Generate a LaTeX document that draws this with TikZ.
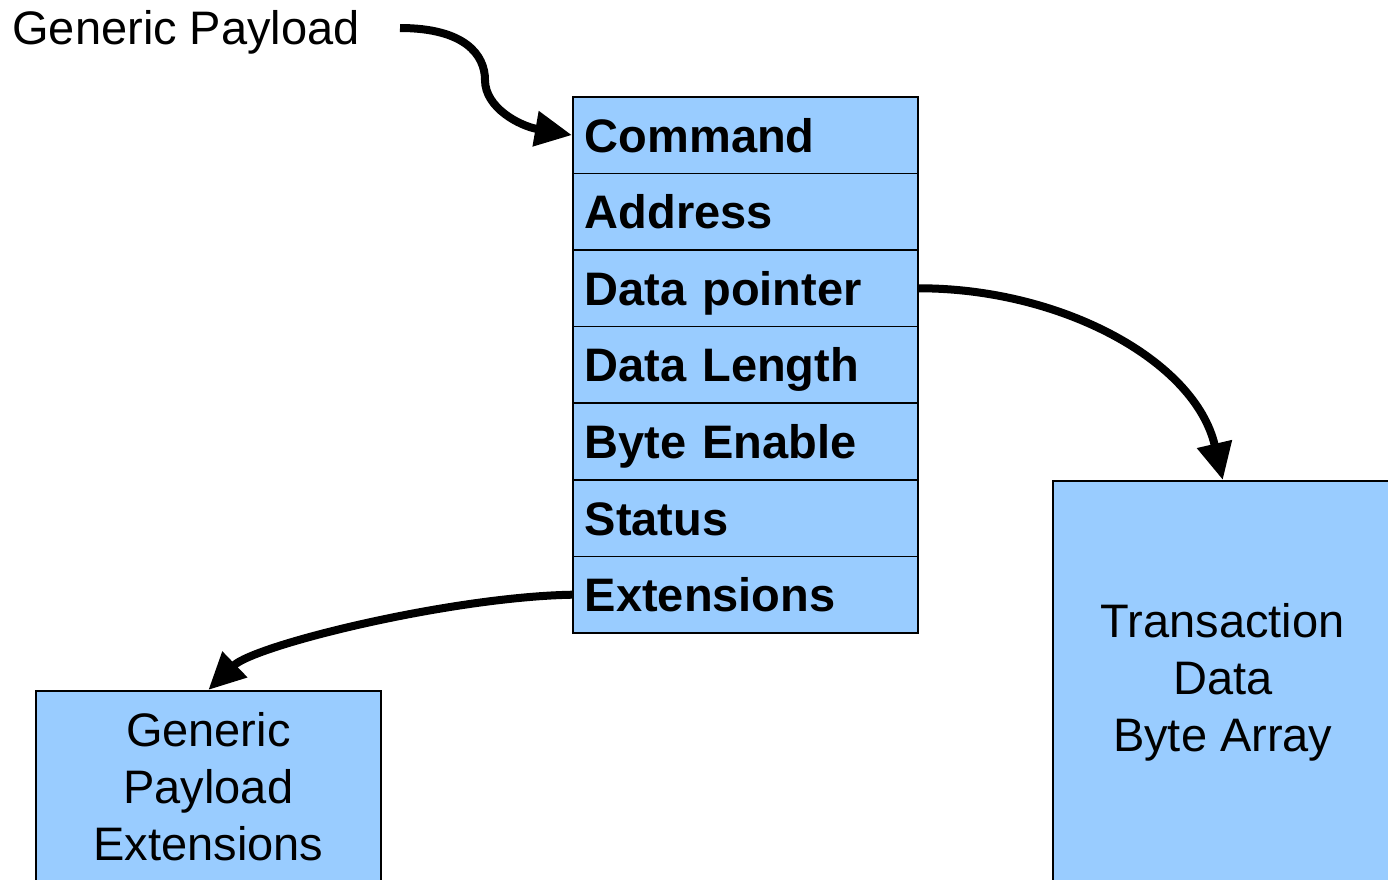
\documentclass[tikz,border=0pt]{standalone}
\usepackage{fontspec}
\setmainfont{Liberation Sans}
\usetikzlibrary{arrows.meta}
\definecolor{fieldblue}{HTML}{99CCFF}
\begin{document}
\begin{tikzpicture}[x=0.5pt,y=-0.5pt,
  font=\fontsize{23.5pt}{28.5pt}\selectfont,
  field/.style={draw=black, line width=0.8pt, fill=fieldblue, anchor=north west,
    minimum width=172.5pt, minimum height=38.3pt, inner xsep=6pt, inner ysep=0pt,
    text width=160.5pt, align=left, text height=17pt, text depth=0pt,
    font=\fontsize{23.5pt}{28.5pt}\selectfont\bfseries},
  block/.style={draw=black, line width=0.8pt, fill=fieldblue, anchor=north west,
    align=center, inner sep=0pt},
  link/.style={line width=4pt, -{Triangle[length=18.5pt,width=17pt]}}]
\useasboundingbox (0,0) rectangle (1388,879);

% payload fields
\node[field] (cmd)  at (572,96)    {Command};
\node[field] (addr) at (572,172.6) {Address};
\node[field] (dptr) at (572,249.2) {Data pointer};
\node[field] (dlen) at (572,325.8) {Data Length};
\node[field] (be)   at (572,402.4) {Byte Enable};
\node[field] (st)   at (572,479)   {Status};
\node[field] (ext)  at (572,555.6) {Extensions};

% target blocks (running past the page edge)
\node[block, minimum width=170pt, minimum height=202pt] (tda) at (1052,480)
  {Transaction\\Data\\Byte Array};
\node[block, minimum width=172.5pt, minimum height=96pt] (gpe) at (35,690)
  {Generic\\Payload\\Extensions};

% title label
\node[anchor=west, inner sep=0pt, text height=17pt, text depth=0pt] (gp) at (12,27) {Generic Payload};
\coordinate (gpstart) at (400,28);

% connectors
\draw[link] (gpstart) .. controls (465,28) and (485,55) .. (485,80)
  .. controls (485,108) and (520,126) .. (cmd.west);
\draw[link] (dptr.east) .. controls (1060,288) and (1195,360) .. (tda.north);
\draw[link] (ext.west) .. controls (450,597) and (255,645) .. (gpe.north);
\end{tikzpicture}
\end{document}
